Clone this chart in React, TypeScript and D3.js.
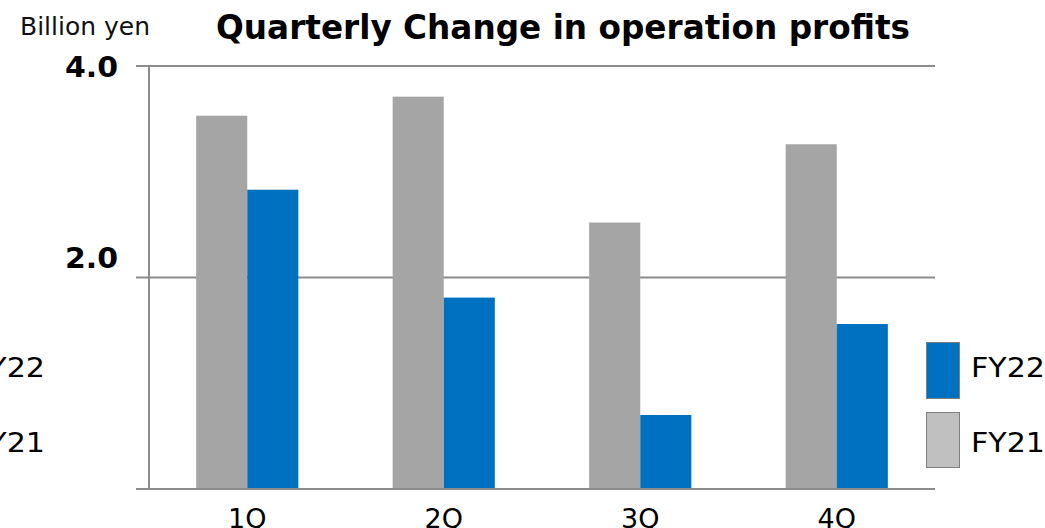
import React from "react";
import * as d3 from "d3";

const quarters = ["1Q", "2Q", "3Q", "4Q"];
const fy21 = [3.53, 3.71, 2.52, 3.26];
const fy22 = [2.83, 1.81, 0.7, 1.56];
const yTicks = [2.0, 4.0];
const seriesNames = ["FY22", "FY21"];

const W = 1045;
const H = 528;
const font = "'DejaVu Sans', Verdana, sans-serif";

export default function App() {
  const left = 149;
  const right = 935;
  const top = 66;
  const bottom = 489;
  const x = d3.scaleBand<string>().domain(quarters).range([left, right]).paddingInner(0.48).paddingOuter(0.24);
  const y = d3.scaleLinear().domain([0, 4]).range([bottom, top]);
  const bw = x.bandwidth() / 2;
  const gridColor = "#8c8c8c";
  const tickLabelDy = (i: number) => (i === yTicks.length - 1 ? 11 : -10);

  return (
    <svg width={W} height={H} style={{ position: "absolute", left: 0, top: 0, background: "#fff" }}>
      {yTicks.map((t) => (
        <line key={"g" + t} x1={136} x2={right} y1={y(t)} y2={y(t)} stroke={gridColor} strokeWidth={2} />
      ))}
      {quarters.map((q, i) => (
        <g key={q}>
          <rect x={x(q)!} y={y(fy21[i])} width={bw} height={y(0) - y(fy21[i])} fill="#A5A5A5" />
          <rect x={x(q)! + bw} y={y(fy22[i])} width={bw} height={y(0) - y(fy22[i])} fill="#0070C0" />
        </g>
      ))}
      <line x1={left} x2={left} y1={top} y2={bottom} stroke={gridColor} strokeWidth={2} />
      <line x1={136} x2={right} y1={bottom} y2={bottom} stroke={gridColor} strokeWidth={2} />
      {yTicks.map((t, i) => (
        <text key={"t" + t} x={118} y={y(t) + tickLabelDy(i)} textAnchor="end" fontFamily={font} fontWeight="bold" fontSize={28} fill="#000" textLength={53} lengthAdjust="spacingAndGlyphs">
          {t.toFixed(1)}
        </text>
      ))}
      {quarters.map((q) => (
        <text key={"x" + q} x={x(q)! + x.bandwidth() / 2} y={528} textAnchor="middle" fontFamily={font} fontSize={27} fill="#000">
          {q}
        </text>
      ))}
      <text x={563} y={39} textAnchor="middle" fontFamily={font} fontWeight="bold" fontSize={33} fill="#000" textLength={694} lengthAdjust="spacingAndGlyphs">
        Quarterly Change in operation profits
      </text>
      <text x={20} y={35} fontFamily={font} fontSize={24} fill="#111" textLength={130} lengthAdjust="spacingAndGlyphs">
        Billion yen
      </text>
      <rect x={926.5} y={342.5} width={33} height={56} fill="#0070C0" stroke="#7f7f7f" strokeWidth={1} />
      <rect x={926.5} y={412.5} width={33} height={55} fill="#C0C0C0" stroke="#7f7f7f" strokeWidth={1} />
      <text x={971} y={377} fontFamily={font} fontSize={27} fill="#000" textLength={74} lengthAdjust="spacingAndGlyphs">{seriesNames[0]}</text>
      <text x={971} y={452} fontFamily={font} fontSize={27} fill="#000" textLength={74} lengthAdjust="spacingAndGlyphs">{seriesNames[1]}</text>
      <text x={-29} y={377} fontFamily={font} fontSize={27} fill="#000" textLength={74} lengthAdjust="spacingAndGlyphs">{seriesNames[0]}</text>
      <text x={-29} y={452} fontFamily={font} fontSize={27} fill="#000" textLength={74} lengthAdjust="spacingAndGlyphs">{seriesNames[1]}</text>
    </svg>
  );
}
